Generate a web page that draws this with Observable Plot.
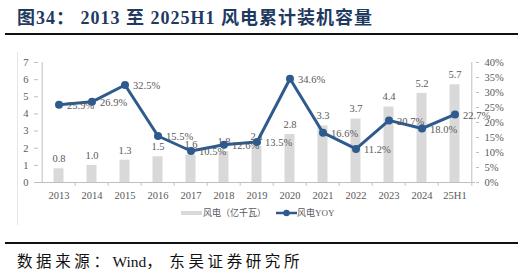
<!DOCTYPE html>
<html><head><meta charset="utf-8">
<script src="https://cdn.jsdelivr.net/npm/d3@7"></script>
<script src="https://cdn.jsdelivr.net/npm/@observablehq/plot@0.6"></script>
<style>
body{margin:0;background:#fff;}
#wrap{position:relative;width:525px;height:276px;overflow:hidden;font-family:"Liberation Serif","Noto Sans CJK SC",serif;}
#title{position:absolute;left:17px;top:3px;font-size:18px;letter-spacing:1px;font-weight:bold;color:#1F3A5F;white-space:nowrap;}
#title .cn{font-family:"Noto Sans CJK SC",sans-serif;font-weight:bold;}
#hr1{position:absolute;left:5px;top:33px;width:513px;height:2px;background:#111;}
#frame{position:absolute;left:17px;top:52px;width:1px;height:173px;background:#E6E6E6;}
#chart{position:absolute;left:0;top:40px;}
#legend{position:absolute;left:0;top:206px;width:525px;font-size:9px;color:#595959;font-family:"Liberation Serif","Noto Sans CJK SC",serif;}
#legend span{position:absolute;white-space:nowrap;}
#hr2{position:absolute;left:5px;top:242px;width:513px;height:2px;background:#111;}
#src{position:absolute;left:17px;top:249px;font-size:15.5px;color:#111;white-space:nowrap;font-family:"Liberation Serif","Noto Sans CJK SC",serif;}
#src .cn{font-family:"Noto Sans CJK SC",sans-serif;letter-spacing:3.6px;}
</style></head>
<body>
<div id="wrap">
  <div id="title"><span class="cn">图</span>34<span class="cn">：</span> 2013 <span class="cn">至</span> 2025H1 <span class="cn">风电累计装机容量</span></div>
  <div id="hr1"></div>
  <div id="frame"></div>
  <div id="chart"></div>
  <div id="legend"></div>
  <div id="hr2"></div>
  <div id="src"><span class="cn">数据来源：</span>Wind<span class="cn">，</span> <span class="cn">东吴证券研究所</span></div>
</div>
<script>
const categories = ["2013","2014","2015","2016","2017","2018","2019","2020","2021","2022","2023","2024","25H1"];
const capacity = [0.8,1.0,1.3,1.5,1.6,1.8,2.1,2.8,3.3,3.7,4.4,5.2,5.7];
const yoy = [25.9,26.9,32.5,15.5,10.5,12.6,13.5,34.6,16.6,11.2,20.7,18.0,22.7];
const leftTicks = [0,1,2,3,4,5,6,7];
const rightTicks = [0,5,10,15,20,25,30,35,40];
const seriesNames = ["风电（亿千瓦）","风电YOY"];

const barColor = "#D9D9D9", lineColor = "#2E5A8E", textColor = "#595959", axisColor = "#BFBFBF";
const W = 525, H = 180, mL = 38, mR = 50, mT = 22, mB = 38;
const yMax = 7, pMax = 40;
const toY = p => p * yMax / pMax;
const step = (W - mL - mR) / categories.length;

const data = categories.map((c, i) => ({cat: c, cap: capacity[i], yoy: yoy[i], yy: toY(yoy[i])}));

const chart = Plot.plot({
  width: W, height: H,
  marginLeft: mL, marginRight: mR, marginTop: mT, marginBottom: mB,
  style: {fontFamily: "Liberation Serif, serif", fontSize: "10px", color: textColor, background: "transparent"},
  x: {type: "band", domain: categories, padding: 0},
  y: {domain: [0, yMax]},
  marks: [
    Plot.barY(data, {x: "cat", y: "cap", fill: barColor, insetLeft: 11.5, insetRight: 11.5}),
    Plot.text(data, {x: "cat", y: "cap", text: d => d.cap.toFixed(1), dy: -10, fill: textColor, fontSize: 10.5}),
    Plot.ruleY([0], {stroke: axisColor}),
    Plot.ruleX(categories.slice(1), {x: d => d, dx: -step / 2, y1: 0, y2: -0.22, stroke: axisColor}),
    Plot.ruleX(categories.slice(-1), {x: d => d, dx: step / 2, y1: 0, y2: -0.22, stroke: axisColor}),
    Plot.axisY(leftTicks, {anchor: "left", tickSize: 4, tickPadding: 6, stroke: axisColor, fill: textColor, fontSize: 10.5, tickFormat: d => d}),
    Plot.ruleX([categories[0]], {x: d => d, dx: -step / 2, y1: 0, y2: yMax, stroke: axisColor}),
    Plot.axisY(rightTicks.map(toY), {anchor: "right", tickSize: 3, tickPadding: 6, stroke: axisColor, fill: textColor, fontSize: 10.5, tickFormat: d => Math.round(d * pMax / yMax) + "%"}),
    Plot.ruleX([categories[categories.length - 1]], {x: d => d, dx: step / 2, y1: 0, y2: yMax, stroke: axisColor}),
    Plot.axisX({tickSize: 0, tickPadding: 9, fill: textColor, fontSize: 10.5, label: null}),
    Plot.line(data, {x: "cat", y: "yy", stroke: lineColor, strokeWidth: 3}),
    Plot.dot(data, {x: "cat", y: "yy", r: 4, fill: lineColor}),
    Plot.text(data, {x: "cat", y: "yy", text: d => d.yoy.toFixed(1) + "%", textAnchor: "start", dx: 8, dy: 1, fill: textColor, fontSize: 10.5})
  ]
});
document.getElementById("chart").appendChild(chart);

const leg = document.getElementById("legend");
leg.innerHTML =
  `<svg style="position:absolute;left:181px;top:4px" width="21" height="6"><rect x="0" y="1" width="21" height="4" fill="${barColor}"/></svg>` +
  `<span style="left:203px;top:0px">${seriesNames[0]}</span>` +
  `<svg style="position:absolute;left:276px;top:2px" width="21" height="10"><line x1="0" y1="5" x2="21" y2="5" stroke="${lineColor}" stroke-width="2.5"/><circle cx="10.5" cy="5" r="3.2" fill="${lineColor}"/></svg>` +
  `<span style="left:297px;top:0px">${seriesNames[1]}</span>`;
</script>
</body></html>
